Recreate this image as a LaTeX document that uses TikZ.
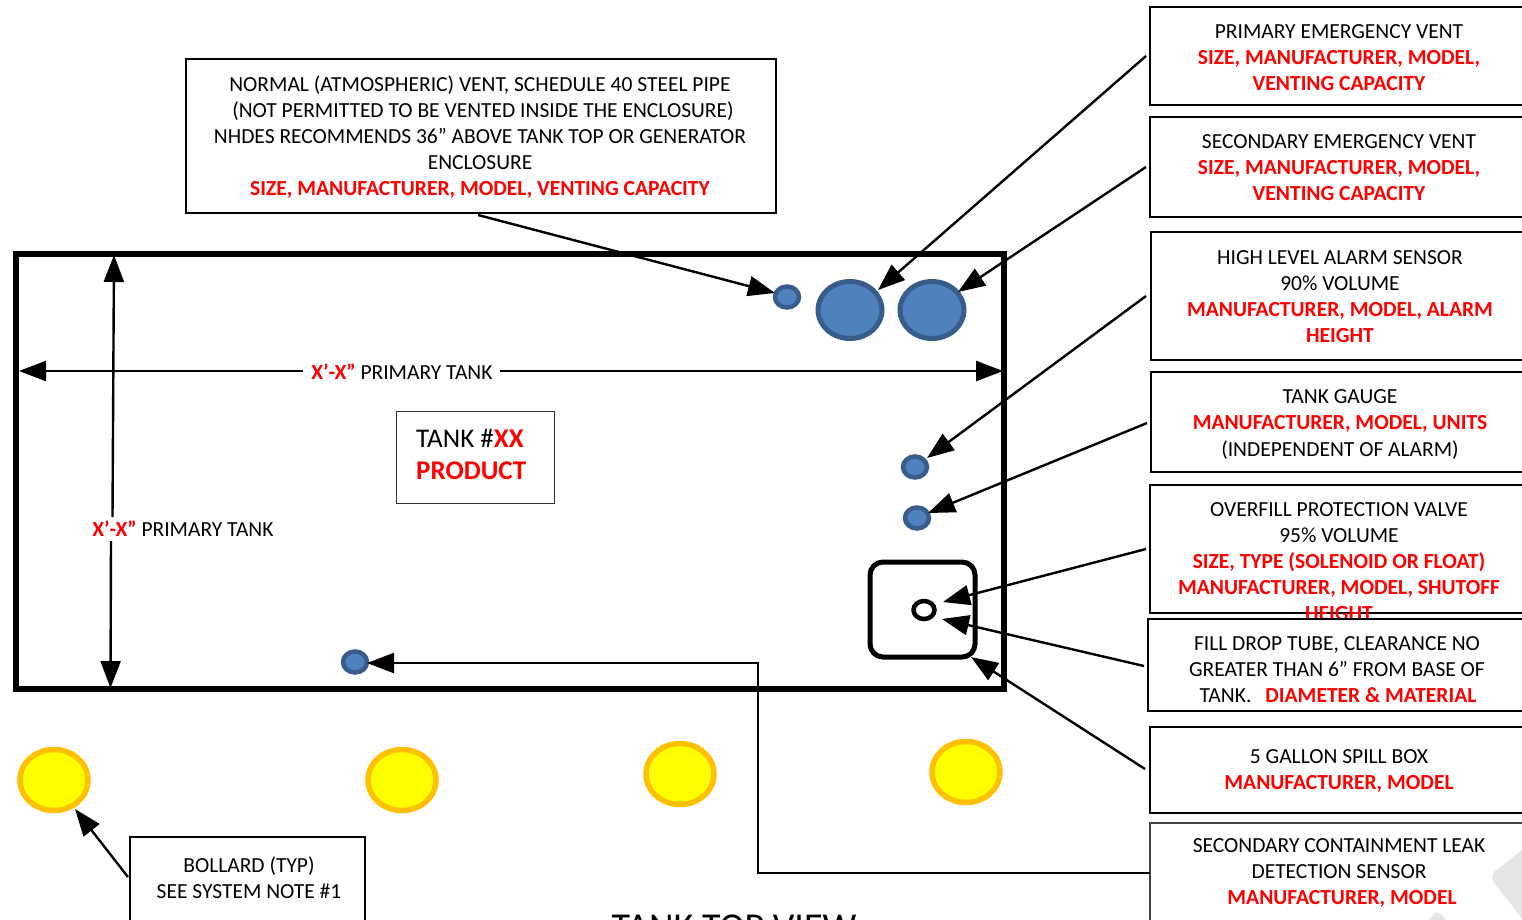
\documentclass[tikz,border=0pt]{standalone}
\usepackage{fontspec}
\setmainfont{Carlito}
\usetikzlibrary{arrows.meta,shapes.geometric}
\definecolor{req}{RGB}{255,0,0}
\definecolor{ventfill}{HTML}{4F81BD}
\definecolor{ventline}{HTML}{385D8A}
\definecolor{bolline}{HTML}{FFC000}
\definecolor{bolfill}{RGB}{255,255,0}
\newcommand{\reqt}[1]{{\bfseries\color{req}#1}}
\tikzset{
  x=1pt,y=-1pt,
  note/.style={draw=black,line width=2.4pt,fill=white,inner sep=0pt,anchor=north west},
  notethin/.style={draw=black!75,line width=1.4pt,fill=white,inner sep=0pt,anchor=north west},
  txt/.style={align=center,inner sep=0pt,font=\fontsize{21.5}{26.2}\selectfont},
  lead/.style={draw=black,line width=2.4pt,-{Triangle[length=27pt,width=20pt]}},
  ventbig/.style={ellipse,draw=ventline,line width=5pt,fill=ventfill,inner sep=0pt,minimum width=64pt,minimum height=57pt},
  ventsmall/.style={ellipse,draw=ventline,line width=4.5pt,fill=ventfill,inner sep=0pt,minimum width=24pt,minimum height=21pt},
  bollard/.style={ellipse,draw=bolline,line width=5.5pt,fill=bolfill,inner sep=0pt,minimum width=68pt,minimum height=61pt},
}
\begin{document}
\begin{tikzpicture}
\useasboundingbox (0,0) rectangle (1522,919);
\clip (0,0) rectangle (1522,919);
% tank
\node[draw=black,line width=5.2pt,inner sep=0pt,minimum width=988pt,minimum height=435pt,anchor=north west] (tank) at (13.4,251.4) {};
% tank label
\node[draw=black!80,line width=1pt,inner sep=0pt,minimum width=158pt,minimum height=92pt,anchor=north west] (lab) at (395.5,410.5) {};
\node[align=left,inner sep=0pt,anchor=west,font=\fontsize{27}{32}\selectfont] (labt) at (416,454) {TANK \#\reqt{XX}\\\reqt{PRODUCT}};
% spill box
\node[draw=black,line width=5pt,rounded corners=13pt,inner sep=0pt,minimum width=105pt,minimum height=95pt,anchor=north west] (spillbox) at (867.5,559.5) {};
\node[ellipse,draw=black,line width=4.5pt,fill=white,inner sep=0pt,minimum width=21pt,minimum height=18pt] (tube) at (924,610) {};
% vents
\node[ventsmall] (v0) at (787,297) {};
\node[ventbig] (v1) at (850,310) {};
\node[ventbig] (v2) at (932,310) {};
\node[ventsmall] (v3) at (915,467) {};
\node[ventsmall] (v4) at (917,518) {};
\node[ventsmall] (v5) at (355,662) {};
% bollards
\node[bollard] (b1) at (54,780) {};
\node[bollard] (b2) at (402,780) {};
\node[bollard] (b3) at (680,774) {};
\node[bollard] (b4) at (966,772) {};
% note boxes
\node[note,minimum width=590pt,minimum height=154pt] (nv) at (184.8,57.8) {};
\node[txt] (nvt) at (480,137) {NORMAL (ATMOSPHERIC) VENT, SCHEDULE 40 STEEL PIPE\\\hspace*{6pt}(NOT PERMITTED TO BE VENTED INSIDE THE ENCLOSURE)\\NHDES RECOMMENDS 36” ABOVE TANK TOP OR GENERATOR\\ENCLOSURE\\\reqt{SIZE, MANUFACTURER, MODEL, VENTING CAPACITY}};
\node[note,minimum width=380pt,minimum height=98pt] (pv) at (1148.8,5.8) {};
\node[txt] (pvt) at (1339,57.5) {PRIMARY EMERGENCY VENT\\\reqt{SIZE, MANUFACTURER, MODEL,}\\\reqt{VENTING CAPACITY}};
\node[note,minimum width=380pt,minimum height=100pt] (sv) at (1148.8,115.8) {};
\node[txt] (svt) at (1339,167.5) {SECONDARY EMERGENCY VENT\\\reqt{SIZE, MANUFACTURER, MODEL,}\\\reqt{VENTING CAPACITY}};
\node[note,minimum width=380pt,minimum height=128pt] (hl) at (1149.8,230.8) {};
\node[txt] (hlt) at (1340,296.5) {HIGH LEVEL ALARM SENSOR\\90\% VOLUME\\\reqt{MANUFACTURER, MODEL, ALARM}\\\reqt{HEIGHT}};
\node[note,minimum width=380pt,minimum height=100pt] (tg) at (1149.8,370.8) {};
\node[txt] (tgt) at (1340,424.5) {TANK GAUGE\\\reqt{MANUFACTURER, MODEL, UNITS}\\(INDEPENDENT OF ALARM)};
\node[note,minimum width=380pt,minimum height=128pt] (op) at (1148.8,483.8) {};
\node[txt] (opt) at (1339,561.5) {OVERFILL PROTECTION VALVE\\95\% VOLUME\\\reqt{SIZE, TYPE (SOLENOID OR FLOAT)}\\\reqt{MANUFACTURER, MODEL, SHUTOFF}\\\reqt{HEIGHT}};
\node[note,minimum width=380pt,minimum height=92pt] (fd) at (1146.8,617.8) {};
\node[txt] (fdt) at (1337,669.5) {FILL DROP TUBE, CLEARANCE NO\\GREATER THAN 6” FROM BASE OF\\\hspace*{2pt}TANK.\hspace{14pt}\reqt{DIAMETER \& MATERIAL}};
\node[note,minimum width=380pt,minimum height=86pt] (sb) at (1148.8,725.8) {};
\node[txt] (sbt) at (1339,771) {5 GALLON SPILL BOX\\\reqt{MANUFACTURER, MODEL}};
\node[notethin,minimum width=380pt,minimum height=110pt] (lk) at (1149.3,822.3) {};
% watermark
\fill[black!10,rounded corners=8pt] (1535,840) -- (1489,876) -- (1535,935) -- cycle;
\fill[black!10,rounded corners=3pt] (1418,932) -- (1437,911) -- (1458,932) -- cycle;
\node[txt] (lkt) at (1339,873) {SECONDARY CONTAINMENT LEAK\\DETECTION SENSOR\\\hspace*{6pt}\reqt{MANUFACTURER, MODEL}};
\node[note,line width=2pt,minimum width=235pt,minimum height=100pt] (bn) at (129,836) {};
\node[txt] (bnt) at (249,878) {BOLLARD (TYP)\\SEE SYSTEM NOTE \#1};
% dimension labels
\node[txt,fill=white,inner xsep=6pt,inner ysep=4pt] (dh) at (402,372) {\reqt{X’-X”} PRIMARY TANK};
\node[txt,fill=white,inner xsep=0pt,inner ysep=4pt] (dv) at (183,529) {\reqt{X’-X”} PRIMARY TANK};
% free ends
\coordinate (a0) at (478,215); \coordinate (e0) at (775,293);
\coordinate (a1) at (1146,56); \coordinate (e1) at (878,290);
\coordinate (a2) at (1146,167); \coordinate (e2) at (958,292);
\coordinate (a3) at (1146,296); \coordinate (e3) at (927,458);
\coordinate (a4) at (1147,423); \coordinate (e4) at (928,513);
\coordinate (a5) at (1146,549); \coordinate (e5) at (943,602);
\coordinate (a6) at (1144,666); \coordinate (e6) at (942,619);
\coordinate (a7) at (1145,769); \coordinate (e7) at (971,657);
\coordinate (a8) at (128,877); \coordinate (e8) at (75,809);
\coordinate (lkl) at (1150,873); \coordinate (c1) at (758,873); \coordinate (c2) at (758,663); \coordinate (e9) at (367,663);
\coordinate (hl1) at (19,371); \coordinate (hl2) at (303,371);
\coordinate (hr1) at (500,371); \coordinate (hr2) at (1003,371);
\coordinate (vt1) at (112.5,517); \coordinate (vt2) at (114,255);
\coordinate (vb1) at (111,541); \coordinate (vb2) at (110.5,688);
% leaders
\draw[lead] (a0) -- (e0);
\draw[lead] (a1) -- (e1);
\draw[lead] (a2) -- (e2);
\draw[lead] (a3) -- (e3);
\draw[lead] (a4) -- (e4);
\draw[lead] (a5) -- (e5);
\draw[lead] (a6) -- (e6);
\draw[lead] (a7) -- (e7);
\draw[lead] (a8) -- (e8);
\draw[lead] (lkl) -- (c1) -- (c2) -- (e9);
\draw[lead] (hl2) -- (hl1);
\draw[lead] (hr1) -- (hr2);
\draw[lead] (vt1) -- (vt2);
\draw[lead] (vb1) -- (vb2);
% clipped title
\node[inner sep=0pt,font=\fontsize{38}{38}\selectfont] (title) at (734,927) {TANK TOP VIEW};
\end{tikzpicture}
\end{document}
